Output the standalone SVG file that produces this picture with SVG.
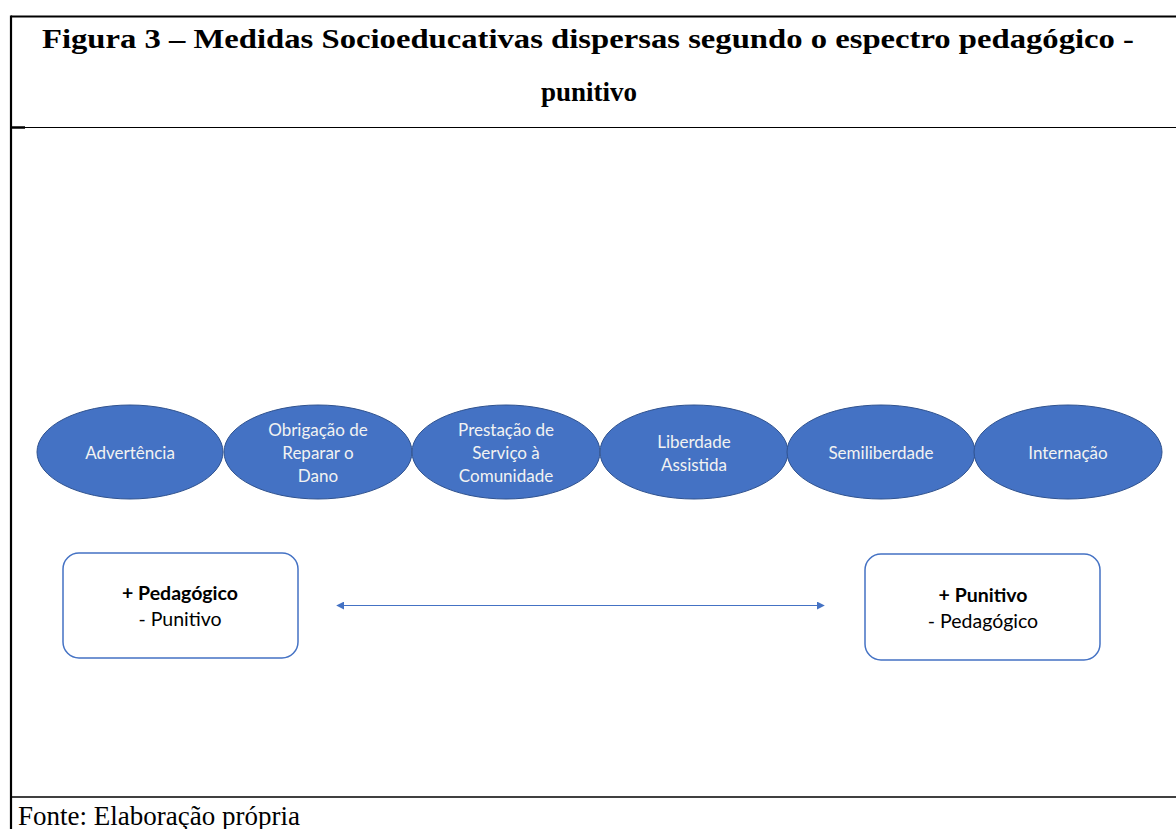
<svg xmlns="http://www.w3.org/2000/svg" width="1176" height="829" viewBox="0 0 1176 829">
<defs>
<style>
.title{font-family:"Liberation Serif",serif;font-weight:bold;font-size:27px;fill:#000}
.foot{font-family:"Liberation Serif",serif;font-size:27px;fill:#000}
.ell{fill:#4472C4;stroke:#2F528F;stroke-width:1}
.et{font-family:Lato,"Open Sans",sans-serif;font-size:17px;fill:#F2F2F2;text-anchor:middle}
.box{fill:#fff;stroke:#4472C4;stroke-width:1.5}
.bt{font-family:Lato,"Open Sans",sans-serif;font-size:19.5px;fill:#000;text-anchor:middle}
.bb{font-weight:bold}
</style>
<marker id="ah" viewBox="0 0 10 10" refX="9" refY="5" markerWidth="8" markerHeight="8" markerUnits="userSpaceOnUse" orient="auto-start-reverse">
<path d="M0,0 L10,5 L0,10 z" fill="#4472C4"/>
</marker>
</defs>
<rect width="1176" height="829" fill="#fff"/>
<g id="frame" stroke="#000" fill="none">
<line x1="11" y1="16.5" x2="1176" y2="16.5" stroke-width="2.2"/>
<line x1="11" y1="15.5" x2="11" y2="829" stroke-width="2.2"/>
<line x1="11" y1="127.5" x2="1176" y2="127.5" stroke-width="1.2"/>
<line x1="11" y1="127.5" x2="25" y2="127.5" stroke-width="2.5"/>
<line x1="11" y1="797" x2="1176" y2="797" stroke-width="1.5"/>
</g>
<g id="title">
<text class="title" x="42" y="48" textLength="1092" lengthAdjust="spacingAndGlyphs">Figura 3 – Medidas Socioeducativas dispersas segundo o espectro pedagógico -</text>
<text class="title" x="589" y="101" text-anchor="middle">punitivo</text>
</g>
<g id="n1"><ellipse class="ell" cx="130" cy="452" rx="93" ry="47"/><text class="et" x="130" y="459">Advertência</text></g>
<g id="n2"><ellipse class="ell" cx="318" cy="452" rx="94" ry="47"/><text class="et" x="318" y="436">Obrigação de</text><text class="et" x="318" y="459">Reparar o</text><text class="et" x="318" y="482">Dano</text></g>
<g id="n3"><ellipse class="ell" cx="506" cy="452" rx="94" ry="47"/><text class="et" x="506" y="436">Prestação de</text><text class="et" x="506" y="459">Serviço à</text><text class="et" x="506" y="482">Comunidade</text></g>
<g id="n4"><ellipse class="ell" cx="694" cy="452" rx="94" ry="47"/><text class="et" x="694" y="448">Liberdade</text><text class="et" x="694" y="471">Assistida</text></g>
<g id="n5"><ellipse class="ell" cx="881" cy="452" rx="94" ry="47"/><text class="et" x="881" y="459">Semiliberdade</text></g>
<g id="n6"><ellipse class="ell" cx="1068" cy="452" rx="94" ry="47"/><text class="et" x="1068" y="459">Internação</text></g>
<g id="b1"><rect class="box" x="63" y="553" width="235" height="105" rx="16"/><text class="bt bb" x="180" y="600">+ Pedagógico</text><text class="bt" x="180" y="626">- Punitivo</text></g>
<g id="b2"><rect class="box" x="865" y="554" width="235" height="106" rx="16"/><text class="bt bb" x="983" y="602">+ Punitivo</text><text class="bt" x="983" y="628">- Pedagógico</text></g>
<g id="connectors">
<line x1="337" y1="605.5" x2="824" y2="605.5" stroke="#4472C4" stroke-width="1.2" marker-start="url(#ah)" marker-end="url(#ah)"/>
</g>
<g id="footer"><text class="foot" x="18" y="825">Fonte: Elaboração própria</text></g>
</svg>
